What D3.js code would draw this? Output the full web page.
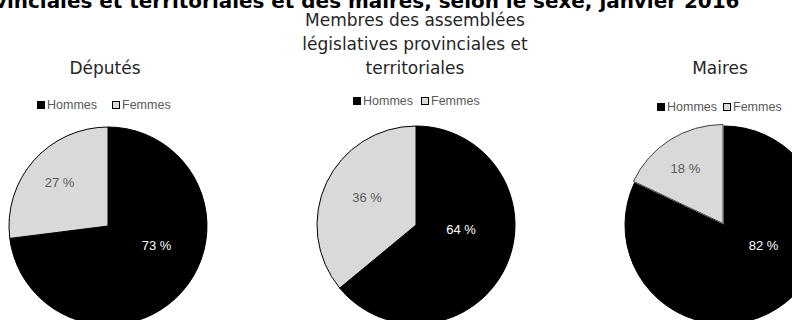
<!DOCTYPE html>
<html>
<head>
<meta charset="utf-8">
<script src="https://cdn.jsdelivr.net/npm/d3@7"></script>
<style>
  html, body { margin: 0; padding: 0; background: #fff; overflow: hidden; }
  svg { display: block; }
</style>
</head>
<body>
<script>
// ---- Data ----
const categories = ["Hommes", "Femmes"];
const panelTitles = [
  ["Députés"],
  ["Membres des assemblées", "législatives provinciales et", "territoriales"],
  ["Maires"]
];
const deputes = [73, 27];
const assemblees = [64, 36];
const maires = [82, 18];
const mainTitle = "provinciales et territoriales et des maires, selon le sexe, janvier 2016";

// ---- Layout ----
const W = 792, H = 320;
const colors = ["#000000", "#d9d9d9"];
const labelColors = ["#ffffff", "#595959"];
const R = 99;
const panels = [
  { values: deputes, title: panelTitles[0], cx: 108, cy: 226, titleX: 105, titleY: [74],
    legX: 37, legY: 105, legGap: 15, explode: [0, 0],
    labelPos: [[0.49, 0.20], [-0.49, -0.44]] },
  { values: assemblees, title: panelTitles[1], cx: 416, cy: 225, titleX: 415, titleY: [26, 50, 74],
    legX: 353, legY: 101, legGap: 8, explode: [0, 0],
    labelPos: [[0.455, 0.04], [-0.495, -0.28]] },
  { values: maires, title: panelTitles[2], cx: 724, cy: 225, titleX: 720, titleY: [74],
    legX: 657, legY: 107, legGap: 6, explode: [0, 1.8],
    labelPos: [[0.40, 0.21], [-0.39, -0.57]] }
];

const svg = d3.select("body").append("svg").attr("width", W).attr("height", H);

// Main title (clipped at top)
const t = svg.append("text")
  .attr("font-family", "DejaVu Sans")
  .attr("font-weight", "bold")
  .attr("font-size", 20)
  .attr("fill", "#000")
  .attr("y", 8)
  .text(mainTitle);
{
  const node = t.node();
  const skip = 4; // "prov" falls outside the frame
  let w = node.getSubStringLength(skip, mainTitle.length - skip);
  const fs = 20 * 733 / w;
  t.attr("font-size", fs);
  const pre = node.getSubStringLength(0, skip);
  t.attr("x", 7 - pre);
}

const pie = d3.pie().sort(null).value(d => d);
const arc = d3.arc().innerRadius(0).outerRadius(R);

panels.forEach(p => {
  const g = svg.append("g").attr("transform", `translate(${p.cx},${p.cy})`);
  const arcs = pie(p.values);
  arcs.forEach((a, i) => {
    const mid = (a.startAngle + a.endAngle) / 2;
    const ex = p.explode[i];
    const dx = Math.sin(mid) * ex, dy = -Math.cos(mid) * ex;
    g.append("path")
      .attr("d", arc(a))
      .attr("transform", `translate(${dx},${dy})`)
      .attr("fill", colors[i])
      .attr("stroke", ex > 0 ? "#404040" : "#000")
      .attr("stroke-width", 1)
      .attr("stroke-linejoin", "round");
  });
  // labels
  arcs.forEach((a, i) => {
    g.append("text")
      .attr("x", p.labelPos[i][0] * R)
      .attr("y", p.labelPos[i][1] * R)
      .attr("dy", "0.35em")
      .attr("text-anchor", "middle")
      .attr("font-family", "Liberation Sans, Arial, sans-serif")
      .attr("font-size", 13)
      .attr("fill", labelColors[i])
      .text(a.data + " %");
  });

  // panel title
  p.title.forEach((line, k) => {
    svg.append("text")
      .attr("x", p.titleX)
      .attr("y", p.titleY[k])
      .attr("text-anchor", "middle")
      .attr("font-family", "DejaVu Sans")
      .attr("font-size", 17)
      .attr("fill", "#262626")
      .text(line);
  });

  // legend
  let x = p.legX;
  categories.forEach((c, i) => {
    svg.append("rect")
      .attr("x", x + 0.5).attr("y", p.legY - 3.5)
      .attr("width", 7).attr("height", 7)
      .attr("fill", colors[i])
      .attr("stroke", "#000").attr("stroke-width", 1);
    const tx = svg.append("text")
      .attr("x", x + 10)
      .attr("y", p.legY)
      .attr("dy", "0.35em")
      .attr("font-family", "Liberation Sans, Arial, sans-serif")
      .attr("font-size", 12.5)
      .attr("fill", "#595959")
      .text(c);
    x += 10 + tx.node().getComputedTextLength() + p.legGap;
  });
});
</script>
</body>
</html>
